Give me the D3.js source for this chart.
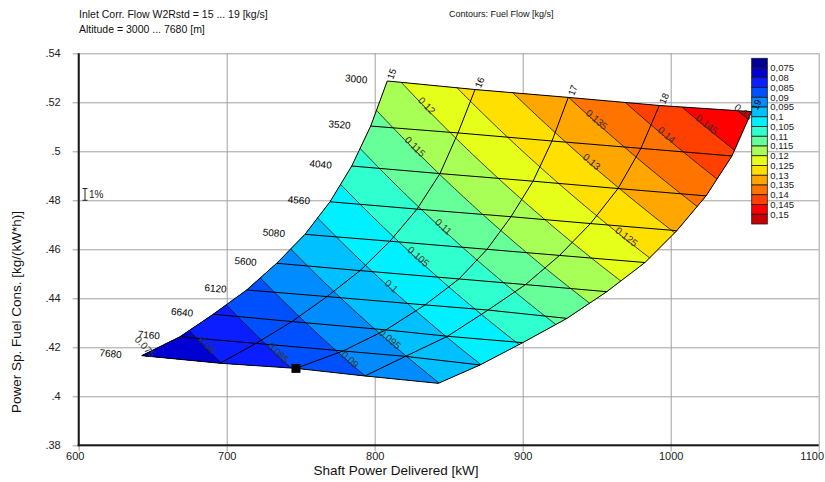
<!DOCTYPE html>
<html>
<head>
<meta charset="utf-8">
<script src="https://cdn.jsdelivr.net/npm/d3@7"></script>
<style>
  html, body { margin: 0; padding: 0; background: #fff; }
  svg { display: block; font-family: "Liberation Sans", Arial, sans-serif; }
</style>
</head>
<body>
<svg id="chart" width="825" height="482"></svg>
<script>
// Carpet grid: rows = altitude [m], columns = inlet corrected flow W2Rstd [kg/s]
const w2rValues = [15, 16, 17, 18, 19];
const altitudes = [3000, 3520, 4040, 4560, 5080, 5600, 6120, 6640, 7160, 7680];

// Shaft power delivered [kW]
const shaftPower = [
  [808.5, 867.8, 930.8, 992.3, 1054.7],
  [797.3, 856.3, 919.8, 979.9, 1041.4],
  [784.5, 844.1, 907.0, 964.4, 1023.9],
  [769.8, 828.6, 892.1, 945.8, 1004.1],
  [752.9, 810.3, 875.9, 924.9, 982.6],
  [733.8, 790.1, 857.0, 901.9, 956.8],
  [713.5, 767.8, 834.0, 876.6, 929.9],
  [690.9, 744.1, 807.6, 849.2, 900.0],
  [668.4, 719.8, 778.6, 820.8, 871.2],
  [642.6, 695.5, 746.8, 793.4, 843.0]
];

// Power specific fuel consumption [kg/(kW*h)]
const specFuelCons = [
  [0.5287, 0.5252, 0.5220, 0.5187, 0.5162],
  [0.5103, 0.5075, 0.5042, 0.5012, 0.4981],
  [0.4940, 0.4909, 0.4878, 0.4848, 0.4818],
  [0.4794, 0.4764, 0.4733, 0.4705, 0.4676],
  [0.4661, 0.4633, 0.4600, 0.4575, 0.4546],
  [0.4543, 0.4513, 0.4479, 0.4456, 0.4427],
  [0.4434, 0.4407, 0.4373, 0.4352, 0.4318],
  [0.4335, 0.4305, 0.4271, 0.4245, 0.4219],
  [0.4243, 0.4216, 0.4185, 0.4163, 0.4128],
  [0.4166, 0.4135, 0.4114, 0.4083, 0.4053]
];

// Fuel flow contour levels [kg/s] and the colour of each band (below first .. above last)
const fuelFlowLevels = [0.075, 0.08, 0.085, 0.09, 0.095, 0.1, 0.105, 0.11, 0.115,
                        0.12, 0.125, 0.13, 0.135, 0.14, 0.145, 0.15];
const bandColors = ["#000096", "#0000d2", "#0a1eff", "#0050ff", "#008cff", "#00c0ff",
                    "#00f0ff", "#30ffd0", "#66ff99", "#a8ff55", "#e6ff1a", "#ffe000",
                    "#ffa600", "#ff7400", "#ff4000", "#ff0000", "#c80000"];

// Shaft power [kW] along each contour where its value is printed
const contourLabelPower = [643.6, 685.3, 733.8, 782.2, 809.2, 810.3, 828.4, 845.3,
                           826.1, 834.0, 969.1, 945.5, 948.9, 996.2, 1023.2, 1048.0];

const xTicks = [600, 700, 800, 900, 1000, 1100];
const yTicks = [0.38, 0.40, 0.42, 0.44, 0.46, 0.48, 0.50, 0.52, 0.54];

// Reference operating point
const designPoint = { power: 746.8, sfc: 0.4114 };

// Fuel flow [kg/s] from power [kW] and specific consumption [kg/(kW*h)]
const fuelFlow = (p, s) => p * s / 3600;
const sfcOnContour = (level, p) => level * 3600 / p;

// ---------------------------------------------------------------------------
const svg = d3.select("#chart");
const plot = { left: 78.7, right: 818.7, top: 53.3, bottom: 445.3 };
const x = d3.scaleLinear().domain([600, 1100]).range([plot.left, plot.right]);
const y = d3.scaleLinear().domain([0.38, 0.54]).range([plot.bottom, plot.top]);

// Axes with full-length grid lines
const fmtY = v => d3.format(".2f")(v).replace(/^0/, "").replace(/0+$/, "");
const xAxis = svg.append("g")
  .attr("transform", `translate(0,${plot.bottom + 6})`)
  .call(d3.axisBottom(x).tickValues(xTicks).tickSize(-(plot.bottom - plot.top + 6)).tickPadding(1).tickFormat(d3.format("d")));
const yAxis = svg.append("g")
  .attr("transform", `translate(${plot.left - 6},0)`)
  .call(d3.axisLeft(y).tickValues(yTicks).tickSize(-(plot.right - plot.left + 6)).tickPadding(12).tickFormat(fmtY));
[xAxis, yAxis].forEach(g => {
  g.select(".domain").remove();
  g.selectAll(".tick line").attr("stroke", "#a0a0a0").attr("stroke-width", 1);
  g.selectAll(".tick text").attr("fill", "#222").attr("font-size", 11)
    .attr("font-family", "Liberation Sans, Arial, sans-serif");
});
xAxis.selectAll(".tick text").attr("dx", (d, i) => i === 0 ? -4 : (i === xTicks.length - 1 ? -7 : 0));

svg.append("line").attr("x1", plot.left).attr("x2", plot.left)
  .attr("y1", plot.top).attr("y2", plot.bottom + 1).attr("stroke", "#1a1a1a").attr("stroke-width", 2);
svg.append("line").attr("x1", plot.left - 1).attr("x2", plot.right)
  .attr("y1", plot.bottom).attr("y2", plot.bottom).attr("stroke", "#1a1a1a").attr("stroke-width", 2);

// Axis titles and headers
svg.append("text").attr("x", 396).attr("y", 475).attr("text-anchor", "middle")
  .attr("font-size", 13.5).attr("fill", "#111").text("Shaft Power Delivered [kW]");
svg.append("text").attr("transform", "translate(21,312) rotate(-90)").attr("text-anchor", "middle")
  .attr("font-size", 13.5).attr("fill", "#111").text("Power Sp. Fuel Cons. [kg/(kW*h)]");
svg.append("text").attr("x", 79).attr("y", 17.5).attr("font-size", 10.5).attr("fill", "#111")
  .text(`Inlet Corr. Flow W2Rstd = ${w2rValues[0]} ... ${w2rValues[w2rValues.length - 1]} [kg/s]`);
svg.append("text").attr("x", 79).attr("y", 33).attr("font-size", 10.5).attr("fill", "#111")
  .text(`Altitude = ${altitudes[0]} ... ${altitudes[altitudes.length - 1]} [m]`);
svg.append("text").attr("x", 449).attr("y", 16.5).attr("font-size", 9).attr("fill", "#111")
  .text("Contours: Fuel Flow [kg/s]");

// 1 % scale bar for specific fuel consumption
const barRef = 0.48, barX = 85;
const bar = svg.append("g").attr("stroke", "#222").attr("stroke-width", 1);
bar.append("line").attr("x1", barX).attr("x2", barX).attr("y1", y(barRef)).attr("y2", y(barRef * 1.01));
bar.append("line").attr("x1", barX - 2.5).attr("x2", barX + 2.5).attr("y1", y(barRef)).attr("y2", y(barRef));
bar.append("line").attr("x1", barX - 2.5).attr("x2", barX + 2.5).attr("y1", y(barRef * 1.01)).attr("y2", y(barRef * 1.01));
svg.append("text").attr("x", barX + 4).attr("y", y(barRef * 1.005) + 3.5).attr("font-size", 10)
  .attr("fill", "#222").text("1%");

// Colour legend
const legend = svg.append("g");
const legY = d3.scaleBand().domain(d3.range(bandColors.length)).range([58.3, 224]).padding(0);
const legX = 751.7, legW = 15.6;
legend.selectAll("rect").data(bandColors).join("rect")
  .attr("x", legX).attr("y", (d, i) => legY(i)).attr("width", legW).attr("height", legY.bandwidth())
  .attr("fill", d => d).attr("stroke", "#1a1a1a").attr("stroke-width", 0.8);
const fmtLegend = v => String(+v.toFixed(3)).replace(".", ",");
legend.selectAll("text").data(fuelFlowLevels).join("text")
  .attr("x", legX + legW + 3).attr("y", (d, i) => legY(i) + legY.bandwidth())
  .attr("dy", "0.35em").attr("font-size", 9.5).attr("fill", "#222").text(d => fmtLegend(d));

// Carpet outline
const node = (i, j) => [x(shaftPower[i][j]), y(specFuelCons[i][j])];
const nA = altitudes.length, nW = w2rValues.length;
const outline = [];
for (let j = 0; j < nW; j++) outline.push(node(0, j));
for (let i = 1; i < nA; i++) outline.push(node(i, nW - 1));
for (let j = nW - 2; j >= 0; j--) outline.push(node(nA - 1, j));
for (let i = nA - 2; i > 0; i--) outline.push(node(i, 0));
const line = d3.line();

svg.append("defs").append("clipPath").attr("id", "carpetClip")
  .append("path").attr("d", line(outline) + "Z");

// Fuel flow bands: fill whole carpet with the top band, then the region
// below each contour with the colour of the band beneath it
const pSamples = d3.range(590, 1112, 2);
const contourPts = level => pSamples.map(p => [x(p), y(sfcOnContour(level, p))]);
const bands = svg.append("g").attr("clip-path", "url(#carpetClip)");
bands.append("path").attr("d", line(outline) + "Z").attr("fill", bandColors[bandColors.length - 1]);
for (let k = fuelFlowLevels.length - 1; k >= 0; k--) {
  const pts = contourPts(fuelFlowLevels[k]);
  pts.push([x(1112), y(0.30)], [x(590), y(0.30)]);
  bands.append("path").attr("d", line(pts) + "Z").attr("fill", bandColors[k]);
}

// Contour lines
bands.selectAll("path.contour").data(fuelFlowLevels).join("path").attr("class", "contour")
  .attr("d", d => line(contourPts(d))).attr("fill", "none")
  .attr("stroke", "#111").attr("stroke-width", 0.8);

// Carpet grid lines: constant altitude and constant W2Rstd
const gridG = svg.append("g").attr("fill", "none").attr("stroke", "#000").attr("stroke-width", 1);
altitudes.forEach((a, i) => {
  gridG.append("path").attr("d", line(w2rValues.map((w, j) => node(i, j))));
});
w2rValues.forEach((w, j) => {
  gridG.append("path").attr("d", line(altitudes.map((a, i) => node(i, j))));
});

// Reference point marker
svg.append("rect").attr("x", x(designPoint.power) - 4.5).attr("y", y(designPoint.sfc) - 4.5)
  .attr("width", 9).attr("height", 9).attr("fill", "#000");

const deg = (dx, dy) => Math.atan2(dy, dx) * 180 / Math.PI;

// Altitude labels, left of the W2Rstd = 15 edge, along each altitude line
altitudes.forEach((a, i) => {
  const [x0, y0] = node(i, 0), [x1, y1] = node(i, 1);
  svg.append("text")
    .attr("transform", `translate(${x0},${y0}) rotate(${deg(x1 - x0, y1 - y0)})`)
    .attr("x", -20).attr("y", 4.5).attr("text-anchor", "end")
    .attr("font-size", 10).attr("fill", "#000").text(a);
});

// W2Rstd labels above the top edge, along each flow line
w2rValues.forEach((w, j) => {
  const [x0, y0] = node(0, j), [x1, y1] = node(1, j);
  svg.append("text")
    .attr("transform", `translate(${x0},${y0}) rotate(${deg(x0 - x1, y0 - y1)})`)
    .attr("x", 3).attr("y", 5).attr("font-size", 9.5).attr("fill", "#000").text(w);
});

// Contour value labels
fuelFlowLevels.forEach((c, k) => {
  const p = contourLabelPower[k];
  const px = x(p), py = y(sfcOnContour(c, p));
  const ang = deg(x(p + 1) - x(p - 1), y(sfcOnContour(c, p + 1)) - y(sfcOnContour(c, p - 1)));
  svg.append("text")
    .attr("transform", `translate(${px},${py}) rotate(${ang})`)
    .attr("text-anchor", "middle").attr("dy", "0.1em")
    .attr("font-size", 10).attr("fill", "#333").text(String(+c.toFixed(3)));
});
</script>
</body>
</html>
